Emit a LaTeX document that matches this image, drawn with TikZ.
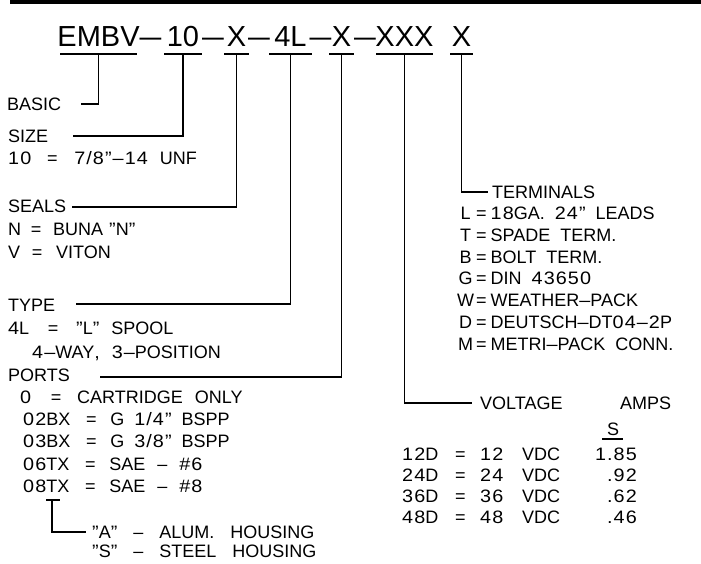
\documentclass[tikz,border=0pt]{standalone}
\usepackage{fontspec}
\setmainfont{Liberation Sans}
\newfontfamily\digf[FakeStretch=1.1,LetterSpace=6]{Liberation Sans}
\newcommand\dg[1]{{\digf #1}}
\newcommand\eqs{\makebox[18pt][c]{=}}
\newcommand\qm{{\digf ”}}
\newcommand\tdash{\scalebox{1.35}[1]{–}}
\newcommand\tlet[1]{\makebox[17pt][c]{#1}\hspace{2pt}=\hspace{4pt}}
\newcommand\vrow[1]{\makebox[53pt][l]{\dg{#1}D}\makebox[25pt][l]{=}\makebox[42pt][l]{\dg{#1}}VDC}
\begin{document}
\begin{tikzpicture}[x=1pt,y=-1pt,
  lbl/.style={anchor=west,inner sep=0pt,text height=12.9pt,text depth=0pt,font=\fontsize{18}{18}\selectfont},
  num/.style={lbl,anchor=east},
  ctr/.style={lbl,anchor=center},
  ttl/.style={anchor=south,inner sep=0pt,text height=21pt,text depth=7pt,font=\fontsize{29}{29}\selectfont},
  wire/.style={line width=1.5pt},
]
\useasboundingbox (0,0) rectangle (701,563);
\fill (10,0) rectangle (701,3.5);

% title
\node[ttl] (t1) at (98.5,54) {EMBV};
\node[ttl] (d1) at (150.5,54) {\tdash};
\node[ttl] (t2) at (183,54) {10};
\node[ttl] (d2) at (213,54) {\tdash};
\node[ttl] (t3) at (236.5,54) {X};
\node[ttl] (d3) at (259,54) {\tdash};
\node[ttl] (t4) at (290.5,54) {4L};
\node[ttl] (d4) at (320.5,54) {\tdash};
\node[ttl] (t5) at (341.5,54) {X};
\node[ttl] (d5) at (365,54) {\tdash};
\node[ttl] (t6) at (404.5,54) {XXX};
\node[ttl] (t7) at (461.5,54) {X};
\draw[wire] ([xshift=-38.5pt]t1.south) -- ([xshift=38.5pt]t1.south);
\draw[wire] ([xshift=-19pt]t2.south) -- ([xshift=19pt]t2.south);
\draw[wire] ([xshift=-12.5pt]t3.south) -- ([xshift=12.5pt]t3.south);
\draw[wire] ([xshift=-21.5pt]t4.south) -- ([xshift=21.5pt]t4.south);
\draw[wire] ([xshift=-12.5pt]t5.south) -- ([xshift=12.5pt]t5.south);
\draw[wire] ([xshift=-28.5pt]t6.south) -- ([xshift=28.5pt]t6.south);
\draw[wire] ([xshift=-11.5pt]t7.south) -- ([xshift=11.5pt]t7.south);

% left column
\node[lbl] (basic) at (7,104) {BASIC};
\node[lbl] (size) at (8,136) {SIZE};
\node[lbl] (sizev) at (8,158) {\dg{10}\hspace{12pt}\eqs\hspace{13pt}\dg{7/8”–14}\hspace{12pt}UNF};
\node[lbl] (seals) at (8,206) {SEALS};
\node[lbl] (sealn) at (8,229) {N\hspace{6pt}\eqs\hspace{8pt}BUNA\hspace{6pt}\qm N\qm};
\node[lbl] (sealv) at (8,252) {V\hspace{8pt}\eqs\hspace{10pt}VITON};
\node[lbl] (type) at (8,305) {TYPE};
\node[lbl] (type1) at (8,328) {\dg{4}L\hspace{15pt}\eqs\hspace{14pt}\qm L\qm\hspace{12pt}SPOOL};
\node[lbl] (type2) at (32,352) {\dg{4–}WAY\dg{,}\hspace{12pt}\dg{3–}POSITION};
\node[lbl] (ports) at (8,375) {PORTS};
\node[lbl] (p0) at (20,397) {\dg{0}\hspace{16pt}\eqs\hspace{12pt}CARTRIDGE\hspace{12pt}ONLY};
\node[lbl] (p1) at (23,419) {\dg{02}BX\hspace{12pt}\eqs\hspace{10pt}G\hspace{10pt}\dg{1/4”}\hspace{10pt}BSPP};
\node[lbl] (p2) at (23,441) {\dg{03}BX\hspace{12pt}\eqs\hspace{10pt}G\hspace{10pt}\dg{3/8”}\hspace{10pt}BSPP};
\node[lbl] (p3) at (23,464) {\dg{06}TX\hspace{12pt}\eqs\hspace{10pt}SAE\hspace{12pt}–\hspace{12pt}\dg{\#6}};
\node[lbl] (p4) at (23,486) {\dg{08}TX\hspace{12pt}\eqs\hspace{10pt}SAE\hspace{12pt}–\hspace{12pt}\dg{\#8}};
\node[lbl] (hA) at (92,532) {\qm A\qm\hspace{16pt}–\hspace{16pt}ALUM.\hspace{16pt}HOUSING};
\node[lbl] (hS) at (92,551) {\qm S\qm\hspace{16pt}–\hspace{16pt}STEEL\hspace{16pt}HOUSING};

\coordinate (cb) at (81,104);
\coordinate (cs) at (73,136);
\coordinate (cse) at (72,207);
\coordinate (cty) at (76,304);
\coordinate (cpo) at (100,377);
\draw[wire] (t1.south) |- (cb);
\draw[wire] (t2.south) |- (cs);
\draw[wire] (t3.south) |- (cse);
\draw[wire] (t4.south) |- (cty);
\draw[wire] (t5.south) |- (cpo);

\coordinate (hb1) at (46,500);
\coordinate (hb2) at (60,500);
\coordinate (hbm) at (52,500);
\draw[wire] (hb1) -- (hb2);
\draw[wire] (hbm) |- ([xshift=-6pt]hA.west);

% terminals
\node[lbl] (term) at (492,192) {TERMINALS};
\node[lbl] (tL) at (457,213) {\tlet{L}\dg{18}GA.\hspace{10pt}\dg{24”}\hspace{10pt}LEADS};
\node[lbl] (tT) at (457,235) {\tlet{T}SPADE\hspace{10pt}TERM.};
\node[lbl] (tB) at (457,257) {\tlet{B}BOLT\hspace{10pt}TERM.};
\node[lbl] (tG) at (457,278) {\tlet{G}DIN\hspace{10pt}\dg{43650}};
\node[lbl] (tW) at (457,300) {\tlet{W}WEATHER\dg{–}PACK};
\node[lbl] (tD) at (457,322) {\tlet{D}DEUTSCH\dg{–}DT\dg{04–2}P};
\node[lbl] (tM) at (457,344) {\tlet{M}METRI\dg{–}PACK\hspace{10pt}CONN.};
\draw[wire] (t7.south) |- ([xshift=-4pt]term.west);

% voltage
\node[lbl] (volt) at (480,403) {VOLTAGE};
\node[lbl] (amps) at (620,403) {AMPS};
\node[ctr] (sS) at (613,429) {S};
\coordinate (su1) at (602,439);
\coordinate (su2) at (623,439);
\draw[wire] (su1) -- (su2);
\draw[wire] (t6.south) |- ([xshift=-8pt]volt.west);
\node[lbl] (v12) at (402,454) {\vrow{12}};
\node[lbl] (v24) at (402,475) {\vrow{24}};
\node[lbl] (v36) at (402,496) {\vrow{36}};
\node[lbl] (v48) at (402,517) {\vrow{48}};
\node[num] (a12) at (637,454) {\dg{1.85}};
\node[num] (a24) at (637,475) {\dg{.92}};
\node[num] (a36) at (637,496) {\dg{.62}};
\node[num] (a48) at (637,517) {\dg{.46}};
\end{tikzpicture}
\end{document}
